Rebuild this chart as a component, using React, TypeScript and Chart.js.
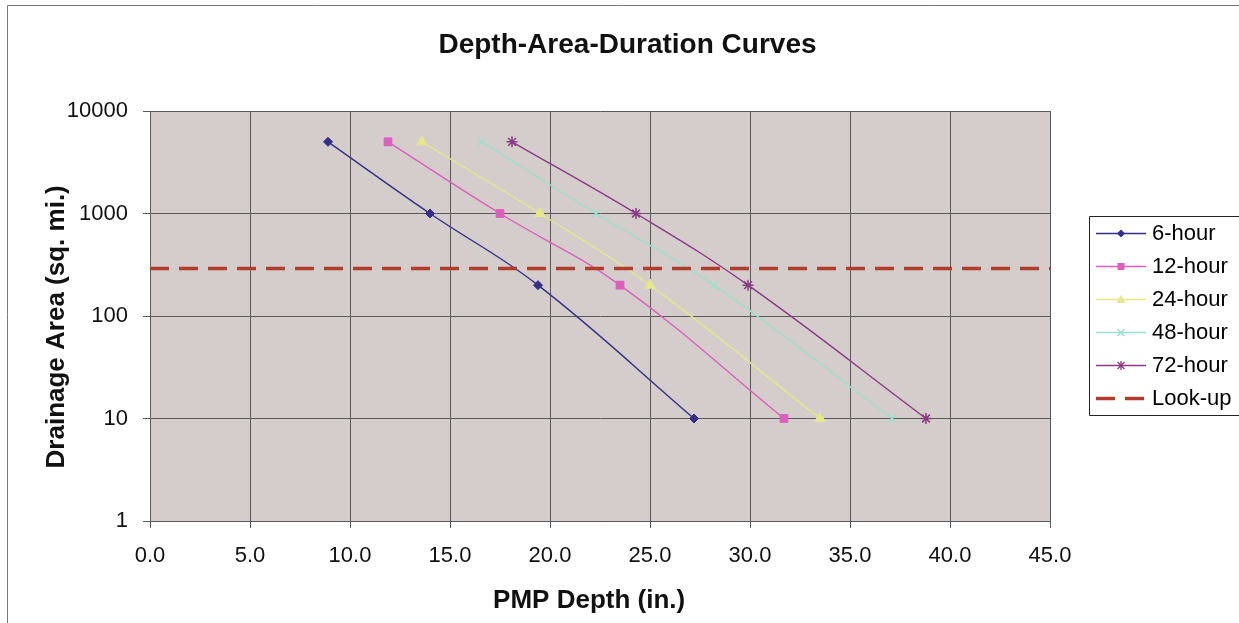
import React, { useEffect, useRef } from 'react';
import { Chart, registerables } from 'chart.js';

Chart.register(...registerables);

// ---- data ----
const areas = [5000, 1000, 200, 10];
const depth6 = [8.9, 14.0, 19.4, 27.2];
const depth12 = [11.9, 17.5, 23.5, 31.7];
const depth24 = [13.6, 19.5, 25.0, 33.5];
const depth48 = [16.6, 22.3, 28.2, 37.1];
const depth72 = [18.1, 24.3, 29.9, 38.8];
const lookupArea = 290;
const lookupDepths = [0, 45];
const seriesNames = ['6-hour', '12-hour', '24-hour', '48-hour', '72-hour', 'Look-up'];
const xTicks = [0, 5, 10, 15, 20, 25, 30, 35, 40, 45];
const yTicks = [1, 10, 100, 1000, 10000];

// ---- styles ----
const FONT = "'Liberation Sans', Arial, Helvetica, sans-serif";
const COLORS = ['#352F88', '#DC5FBC', '#E6E68C', '#9EE0CF', '#8B3A85', '#B23C2C'];
const MARKERS = ['rectRot', 'rect', 'triangle', 'crossRot', 'star'];
const RADII = [4.5, 5.5, 6, 5.5, 5.5];
const PLOT_BG = '#D4CDCB';
const GRID = '#595959';
const LEG_PAD = 11;
const LEG_FONT = 22;
const LEG_BOX_W = 80;

function makeSymbol(color: string, kind: string): HTMLCanvasElement {
  const c = document.createElement('canvas');
  c.width = 90;
  c.height = 21;
  const g = c.getContext('2d') as CanvasRenderingContext2D;
  const cy = 10.5;
  g.strokeStyle = color;
  g.fillStyle = color;
  if (kind === 'dash') {
    g.lineWidth = 3.5;
    g.setLineDash([19, 10]);
    g.beginPath();
    g.moveTo(40, cy);
    g.lineTo(90, cy);
    g.stroke();
    return c;
  }
  g.lineWidth = 1.3;
  g.beginPath();
  g.moveTo(40, cy);
  g.lineTo(90, cy);
  g.stroke();
  const mx = 65;
  g.beginPath();
  if (kind === 'rectRot') {
    g.moveTo(mx, cy - 4);
    g.lineTo(mx + 4, cy);
    g.lineTo(mx, cy + 4);
    g.lineTo(mx - 4, cy);
    g.closePath();
    g.fill();
  } else if (kind === 'rect') {
    g.fillRect(mx - 3.5, cy - 3.5, 7, 7);
  } else if (kind === 'triangle') {
    g.moveTo(mx, cy - 4.5);
    g.lineTo(mx + 4.5, cy + 3.5);
    g.lineTo(mx - 4.5, cy + 3.5);
    g.closePath();
    g.fill();
  } else if (kind === 'crossRot') {
    g.lineWidth = 1.5;
    g.moveTo(mx - 3.5, cy - 3.5);
    g.lineTo(mx + 3.5, cy + 3.5);
    g.moveTo(mx + 3.5, cy - 3.5);
    g.lineTo(mx - 3.5, cy + 3.5);
    g.stroke();
  } else if (kind === 'star') {
    g.lineWidth = 1.3;
    g.moveTo(mx - 3.5, cy - 3.5);
    g.lineTo(mx + 3.5, cy + 3.5);
    g.moveTo(mx + 3.5, cy - 3.5);
    g.lineTo(mx - 3.5, cy + 3.5);
    g.moveTo(mx, cy - 4.5);
    g.lineTo(mx, cy + 4.5);
    g.stroke();
  }
  return c;
}

const decorPlugin = {
  id: 'decor',
  beforeDraw(chart: any) {
    const { ctx, chartArea: a } = chart;
    ctx.save();
    ctx.fillStyle = PLOT_BG;
    ctx.fillRect(a.left, a.top, a.right - a.left, a.bottom - a.top);
    ctx.strokeStyle = '#7a7a7a';
    ctx.lineWidth = 1;
    ctx.beginPath();
    ctx.moveTo(7.5, 623);
    ctx.lineTo(7.5, 5.5);
    ctx.lineTo(1239, 5.5);
    ctx.stroke();
    ctx.restore();
  },
  afterDraw(chart: any) {
    const lg = chart.legend;
    if (!lg) return;
    const { ctx } = chart;
    const n = chart.data.datasets.length;
    const colH = n * (LEG_FONT + LEG_PAD);
    const startY = (lg.top + LEG_PAD + lg.bottom - colH) / 2;
    const top = Math.round(startY - 6.5) + 0.5;
    const bottom = Math.round(startY + colH - LEG_PAD + 5.5) + 0.5;
    const left = Math.round(lg.left + 39) + 0.5;
    ctx.save();
    ctx.strokeStyle = '#222';
    ctx.lineWidth = 1;
    ctx.beginPath();
    ctx.moveTo(1240, top);
    ctx.lineTo(left, top);
    ctx.lineTo(left, bottom);
    ctx.lineTo(1240, bottom);
    ctx.stroke();
    ctx.restore();
  },
};

export default function App() {
  const ref = useRef<HTMLCanvasElement | null>(null);

  useEffect(() => {
    if (!ref.current) return;
    Chart.defaults.font.family = FONT;

    const seriesDepths = [depth6, depth12, depth24, depth48, depth72];
    const datasets: any[] = seriesDepths.map((depths, i) => ({
      label: seriesNames[i],
      data: depths.map((d, j) => ({ x: d, y: areas[j] })),
      showLine: true,
      borderColor: COLORS[i],
      backgroundColor: COLORS[i],
      borderWidth: 1.4,
      tension: 0.4,
      pointStyle: MARKERS[i],
      pointRadius: RADII[i],
      pointBackgroundColor: COLORS[i],
      pointBorderColor: COLORS[i],
      pointBorderWidth: MARKERS[i] === 'crossRot' || MARKERS[i] === 'star' ? 1.5 : 1,
      order: -i,
    }));
    datasets.push({
      label: seriesNames[5],
      data: lookupDepths.map((d) => ({ x: d, y: lookupArea })),
      showLine: true,
      borderColor: COLORS[5],
      backgroundColor: COLORS[5],
      borderWidth: 3.5,
      borderDash: [19, 10],
      pointRadius: 0,
      tension: 0,
      order: -5,
    });

    const symbols = [
      makeSymbol(COLORS[0], 'rectRot'),
      makeSymbol(COLORS[1], 'rect'),
      makeSymbol(COLORS[2], 'triangle'),
      makeSymbol(COLORS[3], 'crossRot'),
      makeSymbol(COLORS[4], 'star'),
      makeSymbol(COLORS[5], 'dash'),
    ];

    const tickFont = { family: FONT, size: 22 };
    const titleFont = { family: FONT, size: 26, weight: 'bold' as const };

    const chart = new Chart(ref.current, {
      type: 'scatter',
      data: { datasets },
      options: {
        animation: false,
        responsive: false,
        devicePixelRatio: 1,
        events: [],
        layout: { padding: { left: 16, right: 0, top: 0, bottom: 0 } },
        plugins: {
          title: {
            display: true,
            text: 'Depth-Area-Duration Curves',
            color: '#111',
            font: { family: FONT, size: 28, weight: 'bold' },
            padding: { top: 28, bottom: 49.4 },
          },
          legend: {
            display: true,
            position: 'right',
            fullSize: false,
            maxWidth: 189,
            labels: {
              usePointStyle: true,
              pointStyleWidth: LEG_BOX_W,
              padding: LEG_PAD,
              color: '#000',
              font: { family: FONT, size: LEG_FONT },
              generateLabels: (ch: any) =>
                ch.data.datasets.map((ds: any, i: number) => ({
                  text: ds.label,
                  pointStyle: symbols[i],
                  fillStyle: 'rgba(0,0,0,0)',
                  strokeStyle: 'rgba(0,0,0,0)',
                  lineWidth: 0,
                  hidden: false,
                  datasetIndex: i,
                  fontColor: '#000',
                })),
            },
          },
          tooltip: { enabled: false },
        },
        scales: {
          x: {
            type: 'linear',
            min: 0,
            max: 45,
            afterBuildTicks: (s: any) => {
              s.ticks = xTicks.map((v) => ({ value: v }));
            },
            afterFit: (s: any) => {
              s.height = 102;
            },
            ticks: {
              autoSkip: false,
              maxRotation: 0,
              padding: 15,
              color: '#111',
              font: tickFont,
              callback: (v: any) => Number(v).toFixed(1),
            },
            grid: { color: GRID, lineWidth: 1, tickLength: 7, tickColor: GRID },
            border: { color: GRID, width: 1 },
            title: {
              display: true,
              text: 'PMP Depth (in.)\u00a0\u00a0\u00a0',
              color: '#111',
              font: titleFont,
              padding: { top: 0, bottom: 6.4 },
            },
          },
          y: {
            type: 'logarithmic',
            min: 1,
            max: 10000,
            afterBuildTicks: (s: any) => {
              s.ticks = yTicks.map((v) => ({ value: v }));
            },
            afterFit: (s: any) => {
              s.width = 134;
            },
            ticks: {
              autoSkip: false,
              padding: 15,
              color: '#111',
              font: tickFont,
              callback: (v: any) => String(v),
            },
            grid: { color: GRID, lineWidth: 1, tickLength: 7, tickColor: GRID },
            border: { color: GRID, width: 1 },
            title: {
              display: true,
              text: 'Drainage Area (sq. mi.)\u00a0\u00a0\u00a0',
              color: '#111',
              font: titleFont,
              padding: { top: 25.4, bottom: 0 },
            },
          },
        },
      } as any,
      plugins: [decorPlugin],
    });

    return () => {
      chart.destroy();
    };
  }, []);

  return (
    <div style={{ position: 'absolute', left: 0, top: 0, width: 1239, height: 623, overflow: 'hidden', background: '#fff' }}>
      <canvas ref={ref} width={1239} height={623} style={{ display: 'block' }} />
    </div>
  );
}
